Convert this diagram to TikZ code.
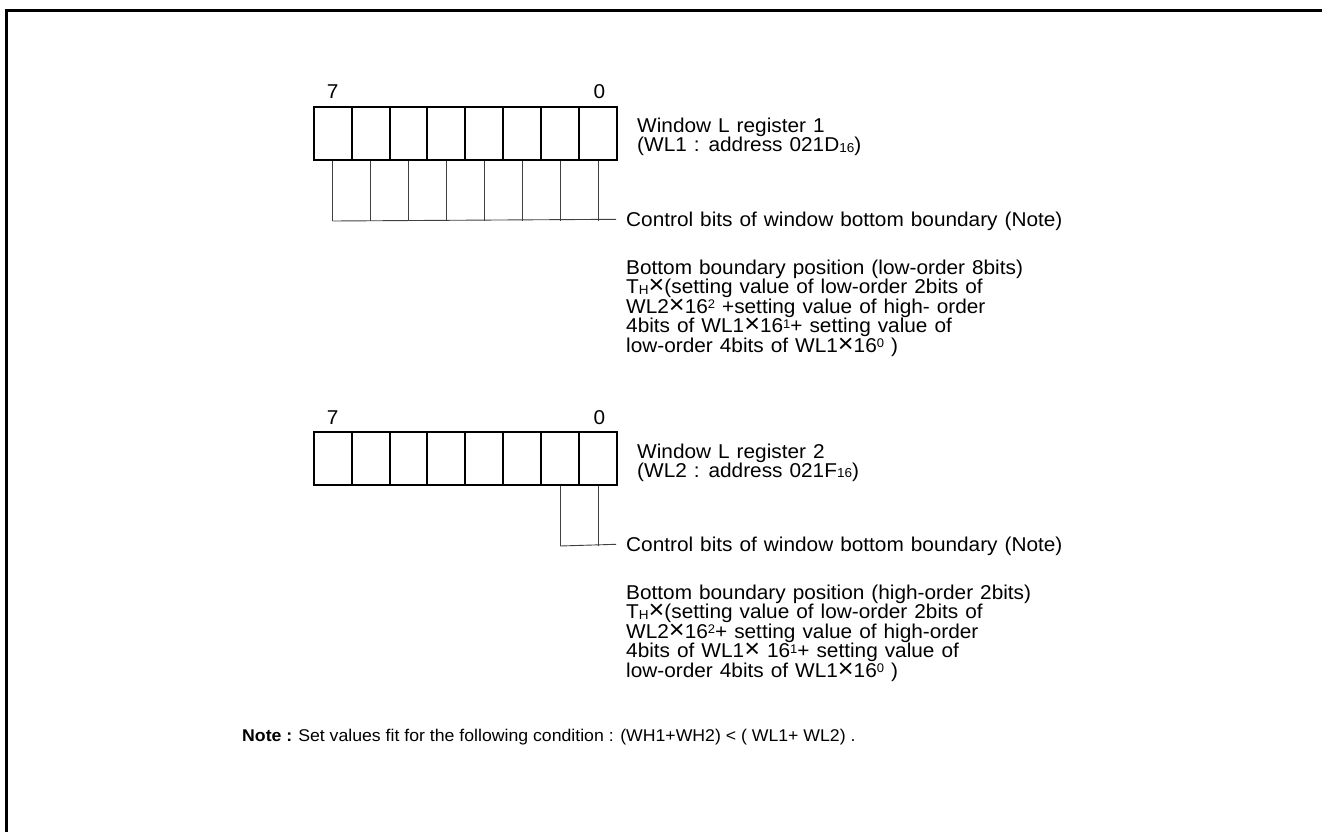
\documentclass[tikz,border=0pt]{standalone}
\usepackage{fontspec}
\setmainfont{Liberation Sans}[FakeStretch=1.04]
\usepackage{graphicx}
\usetikzlibrary{calc}
\newcommand{\smallsub}[1]{\raisebox{-0.5pt}{\fontsize{13}{13}\selectfont #1}}
\newcommand{\smallsup}[1]{\raisebox{4.5pt}{\fontsize{12.5}{12.5}\selectfont #1}}
\newcommand{\mulx}{\scalebox{1.3}{×}}
\newcommand{\THsub}{T\smallsub{H}}
\newcommand{\basefont}{\fontsize{20}{19.5}\selectfont\spaceskip=7pt plus 1pt minus 1pt\relax}
\newcommand{\notefont}{\fontsize{17}{19.5}\selectfont}
\begin{document}
\begin{tikzpicture}[x=1pt,y=-1pt,
  txt/.style={anchor=base west,inner sep=0pt,font=\basefont},
  bitnum/.style={anchor=base,inner sep=0pt,font=\basefont},
  cell/.style={draw,line width=2pt,minimum width=37.9pt,minimum height=53.6pt,inner sep=0pt,anchor=north west},
  thin/.style={line width=0.9pt,black!75},
  frame/.style={line width=2.6pt}]
\useasboundingbox (0,0) rectangle (1322,832);
% outer frame (top and left edges)
\coordinate (fbl) at (6.5,832);
\coordinate (ftl) at (6.5,10.5);
\coordinate (ftr) at (1322,10.5);
\draw[frame] (fbl) -- (ftl) -- (ftr);

% ---------- Register 1 ----------
\foreach \i in {0,...,7} {
  \node[cell] (a\i) at (312.7+37.9*\i,105.7) {};
}
\node[bitnum] (a7lbl) at (332.7,99) {7};
\node[bitnum] (a0lbl) at (599.3,99) {0};
\coordinate (aend) at (616,219.3);
\foreach \i in {0,...,7} {
  \coordinate (ab\i) at ($(a\i.south)+(0,59.7)$);
}
\draw[thin] (ab0) -- (aend);
\foreach \i in {0,...,7} {
  \draw[thin] (a\i.south) -- (ab\i);
}
\node[txt] (aname) at (637,133) {Window L register 1};
\node[txt] (aaddr) at (637,152) {(WL1 : address 021D\smallsub{16})};
\node[txt] (actl) at (626,226.5) {Control bits of window bottom boundary (Note)};
\node[txt] (ad1) at (626,274) {Bottom boundary position (low-order 8bits)};
\node[txt] (ad2) at (626,293.5) {\THsub\mulx(setting value of low-order 2bits of};
\node[txt] (ad3) at (626,313) {WL2\mulx16\smallsup{2} +setting value of high- order};
\node[txt] (ad4) at (626,332.5) {4bits of WL1\mulx16\smallsup{1}+ setting value of};
\node[txt] (ad5) at (626,352) {low-order 4bits of WL1\mulx16\smallsup{0} )};

% ---------- Register 2 ----------
\foreach \i in {0,...,7} {
  \node[cell] (b\i) at (312.7+37.9*\i,430.7) {};
}
\node[bitnum] (b7lbl) at (332.7,424) {7};
\node[bitnum] (b0lbl) at (599.3,424) {0};
\coordinate (bend) at (616,544.3);
\coordinate (bb6) at ($(b6.south)+(0,59.7)$);
\coordinate (bb7) at ($(b7.south)+(0,59.7)$);
\draw[thin] (bb6) -- (bend);
\draw[thin] (b6.south) -- (bb6);
\draw[thin] (b7.south) -- (bb7);
\node[txt] (bname) at (637,458) {Window L register 2};
\node[txt] (baddr) at (637,477) {(WL2 : address 021F\smallsub{16})};
\node[txt] (bctl) at (626,551.5) {Control bits of window bottom boundary (Note)};
\node[txt] (bd1) at (626,599) {Bottom boundary position (high-order 2bits)};
\node[txt] (bd2) at (626,618.5) {\THsub\mulx(setting value of low-order 2bits of};
\node[txt] (bd3) at (626,638) {WL2\mulx16\smallsup{2}+ setting value of high-order};
\node[txt] (bd4) at (626,657.5) {4bits of WL1\mulx\ 16\smallsup{1}+ setting value of};
\node[txt] (bd5) at (626,677) {low-order 4bits of WL1\mulx16\smallsup{0} )};

% ---------- Note ----------
\node[txt,font=\notefont] (note) at (242,741) {{\bfseries Note :}\hspace{6pt}Set values fit for the following condition : (WH1+WH2) < ( WL1+ WL2) .};
\end{tikzpicture}
\end{document}
